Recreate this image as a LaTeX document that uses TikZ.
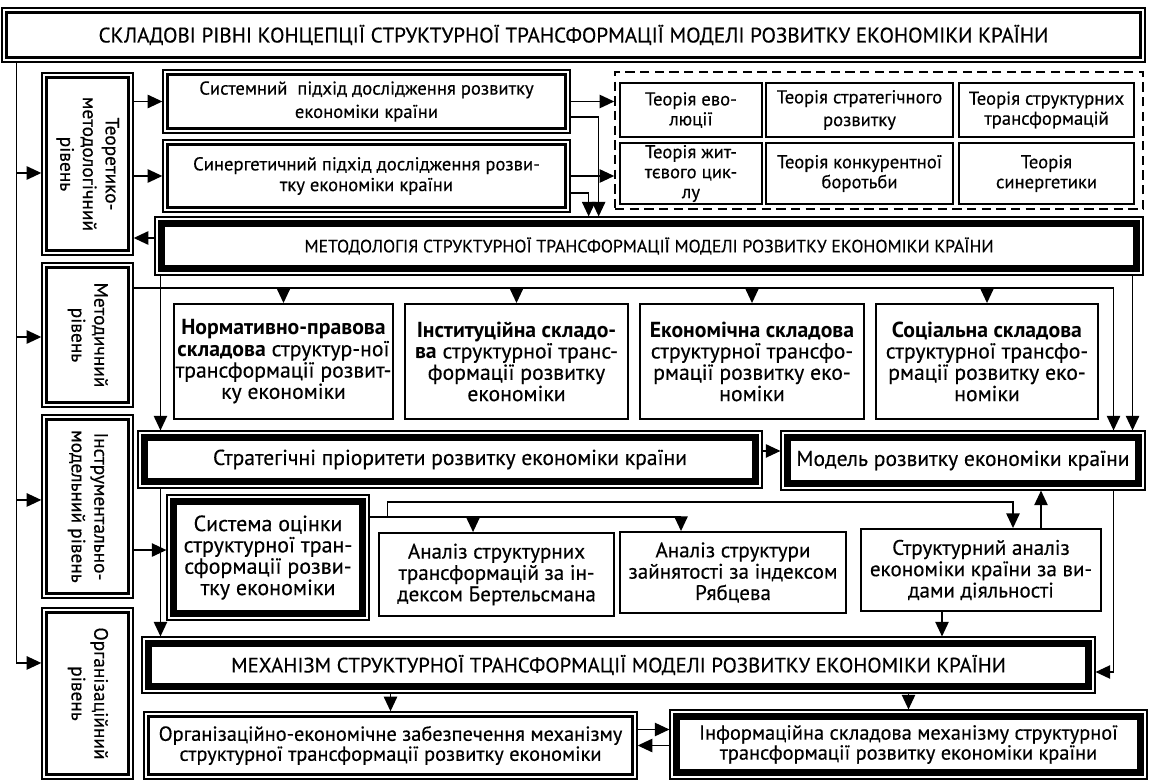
\documentclass[tikz,border=0pt]{standalone}
\usepackage{fontspec}
\setmainfont{PT Sans}[UprightFeatures={FakeBold=0.35}]
\usetikzlibrary{arrows.meta}

\tikzset{
  arr/.style={line width=1.2pt,-{Triangle[length=11pt,width=10pt]}},
  wh/.style 2 args={minimum width=#1*0.75pt,minimum height=#2*0.75pt},
  dblbox/.style={draw,line width=1pt,fill=white,align=center,inner sep=0pt,
    path picture={\draw[line width=1.6pt]
      ([xshift=3.4pt,yshift=-3.4pt]path picture bounding box.north west) rectangle
      ([xshift=-3.4pt,yshift=3.4pt]path picture bounding box.south east);}},
  heavybox/.style={draw,line width=0.8pt,fill=white,align=center,inner sep=0pt,
    path picture={\draw[line width=5.5pt]
      ([xshift=5pt,yshift=-5pt]path picture bounding box.north west) rectangle
      ([xshift=-5pt,yshift=5pt]path picture bounding box.south east);}},
  plainbox/.style={draw,line width=1.4pt,align=center,inner sep=0pt},
  theoframe/.style={draw,line width=1.1pt,dash pattern=on 7pt off 4pt},
  ftitle/.style={font=\fontsize{15.8pt}{19pt}\selectfont},
  fmeth/.style={font=\fontsize{13.3pt}{16pt}\selectfont},
  fmech/.style={font=\fontsize{15.6pt}{18pt}\selectfont},
  fbody/.style={font=\fontsize{14pt}{15.5pt}\selectfont},
  fcomp/.style={font=\fontsize{16.3pt}{16pt}\selectfont},
  fbig/.style={font=\fontsize{16.2pt}{16pt}\selectfont},
  feval/.style={font=\fontsize{16.5pt}{16pt}\selectfont},
  fanal/.style={font=\fontsize{15.8pt}{16pt}\selectfont},
  fbottom/.style={font=\fontsize{15.3pt}{15pt}\selectfont},
  ftheo/.style={font=\fontsize{14pt}{15pt}\selectfont},
  flvl/.style={font=\fontsize{14.5pt}{17pt}\selectfont}
}

\begin{document}
\begin{tikzpicture}[x=0.75pt,y=-0.75pt]
\useasboundingbox (0,0) rectangle (1152,780);

% title
\node[dblbox,wh={1143}{54},ftitle] (title) at (573.5,35) {СКЛАДОВІ РІВНІ КОНЦЕПЦІЇ СТРУКТУРНОЇ ТРАНСФОРМАЦІЇ МОДЕЛІ РОЗВИТКУ ЕКОНОМІКИ КРАЇНИ};

% levels
\node[dblbox,wh={91}{182},flvl] (lvlA) at (87.5,164) {\rotatebox{-90}{\begin{tabular}{@{}c@{}}Теоретико-\\методологічний\\рівень\end{tabular}}};
\node[dblbox,wh={91}{144},flvl] (lvlB) at (87.5,335) {\rotatebox{-90}{\begin{tabular}{@{}c@{}}Методичний\\рівень\end{tabular}}};
\node[dblbox,wh={91}{183},flvl] (lvlC) at (87.5,506.5) {\rotatebox{-90}{\begin{tabular}{@{}c@{}}Інструментально-\\модельний рівень\end{tabular}}};
\node[dblbox,wh={91}{171},flvl] (lvlD) at (87.5,693.5) {\rotatebox{-90}{\begin{tabular}{@{}c@{}}Організаційний\\рівень\end{tabular}}};

% theoretical level
\node[dblbox,wh={407}{63},fbody] (sys) at (366.5,101.5) {Системний \ підхід дослідження розвитку\\[2pt]економіки країни};
\node[dblbox,wh={407}{72},fbody] (syn) at (366.5,176) {Синергетичний підхід дослідження розви-\\тку економіки країни};
\node[theoframe,wh={528}{137}] (theo) at (879,140.5) {};
\node[plainbox,wh={142}{54},ftheo] (thA) at (691,110) {Теорія ево-\\люції};
\node[plainbox,wh={187}{54},ftheo] (thB) at (859.5,110) {Теорія стратегічного\\[2pt]розвитку};
\node[plainbox,wh={175}{54},ftheo] (thC) at (1046.5,110) {Теорія структурних\\трансформацій};
\node[plainbox,wh={142}{61},ftheo] (thD) at (691,173.5) {Теорія жит-\\тєвого цик-\\лу};
\node[plainbox,wh={187}{61},ftheo] (thE) at (859.5,173.5) {Теорія конкурентної\\боротьби};
\node[plainbox,wh={175}{61},ftheo] (thF) at (1046.5,173.5) {Теорія\\синергетики};

\node[heavybox,wh={988}{58},fmeth] (method) at (649,246) {МЕТОДОЛОГІЯ СТРУКТУРНОЇ ТРАНСФОРМАЦІЇ МОДЕЛІ РОЗВИТКУ ЕКОНОМІКИ КРАЇНИ};

% methodical level
\node[plainbox,wh={219}{115},fcomp] (compA) at (283.5,361.5) {\textbf{Нормативно-правова}\\\textbf{складова} структур-ної\\трансформації розвит-\\ку економіки};
\node[plainbox,wh={223}{115},fcomp] (compB) at (516.5,361.5) {\textbf{Інституційна складо-}\\\textbf{ва} структурної транс-\\формації розвитку\\економіки};
\node[plainbox,wh={224}{115},fcomp] (compC) at (752,361.5) {\textbf{Економічна складова}\\структурної трансфо-\\рмації розвитку еко-\\номіки};
\node[plainbox,wh={222}{115},fcomp] (compD) at (987,361.5) {\textbf{Соціальна складова}\\структурної трансфо-\\рмації розвитку еко-\\номіки};

% instrumental level
\node[heavybox,wh={624}{57},fbig] (strat) at (450,459.5) {Стратегічні пріоритети розвитку економіки країни};
\node[heavybox,wh={364}{59},fbig] (model) at (963,460.5) {Модель розвитку економіки країни};
\node[heavybox,wh={202}{125},feval] (sysEval) at (268,557.5) {Система оцінки\\структурної тран-\\сформації розви-\\тку економіки};
\node[plainbox,wh={235}{83},fanal] (anA) at (496.5,574.5) {Аналіз структурних\\трансформацій за ін-\\дексом Бертельсмана};
\node[plainbox,wh={226}{81},fanal] (anB) at (733,572.5) {Аналіз структури\\зайнятості за індексом\\Рябцева};
\node[plainbox,wh={240}{82},fanal] (anC) at (981,570) {Структурний аналіз\\економіки країни за ви-\\дами діяльності};

% organisational level
\node[heavybox,wh={953}{56},fmech] (mech) at (618.5,665) {МЕХАНІЗМ СТРУКТУРНОЇ ТРАНСФОРМАЦІЇ МОДЕЛІ РОЗВИТКУ ЕКОНОМІКИ КРАЇНИ};
\node[dblbox,wh={493}{67},fbottom] (orgEc) at (390.5,745.5) {Організаційно-економічне забезпечення механізму\\структурної трансформації розвитку економіки};
\node[heavybox,wh={477}{69},fbottom] (info) at (908.5,744.5) {Інформаційна складова механізму структурної\\трансформації розвитку економіки країни};

% spine and level arrows
\coordinate (spine) at ([xshift=11.25pt]title.south west);
\coordinate (pA) at ([yshift=-6.75pt]lvlA.west);
\coordinate (pB) at ([yshift=-1.5pt]lvlB.west);
\coordinate (pC) at ([yshift=4.9pt]lvlC.west);
\coordinate (pD) at ([yshift=22.9pt]lvlD.west);
\draw[line width=1.2pt] (spine) -- (spine |- pD);
\draw[arr] (spine |- pA) -- (pA);
\draw[arr] (spine |- pB) -- (pB);
\draw[arr] (spine |- pC) -- (pC);
\draw[arr] (spine |- pD) -- (pD);

% theoretical connectors
\draw[arr] (lvlA.east |- sys.west) -- (sys.west);
\draw[arr] (lvlA.east |- syn.west) -- (syn.west);
\draw[arr] (sys.east) -- (sys.east -| theo.west);
\draw[arr] (syn.east) -- (syn.east -| theo.west);
\draw[arr] ([yshift=-11.6pt]sys.east) -- ++(28,0) coordinate (jA) -- (jA |- method.north);
\draw[arr] ([yshift=-12.75pt]syn.east) -- ++(18,0) coordinate (jB) -- (jB |- method.north);
\draw[arr] ([yshift=6pt]method.west) coordinate (m1) -- (m1 -| lvlA.east);

% methodical connectors
\coordinate (mline) at ([yshift=35.25pt]lvlB.east);
\draw[arr] (mline) -| ([xshift=-24pt]model.north east);
\draw[arr] (compA.north |- mline) -- (compA.north);
\draw[arr] (compB.north |- mline) -- (compB.north);
\draw[arr] (compC.north |- mline) -- (compC.north);
\draw[arr] (compD.north |- mline) -- (compD.north);
\draw[arr] ([xshift=-8.25pt]method.south east) coordinate (jC) -- (jC |- model.north);
\draw[arr] ([xshift=4.5pt]method.south west) coordinate (jD) -- (jD |- strat.north);

% instrumental connectors
\draw[arr] (jD |- strat.south) -- (jD |- mech.north);
\draw[arr] ([yshift=6.4pt]strat.east) coordinate (jE) -- (jE -| model.west);
\coordinate (jF) at ([yshift=5.6pt]sysEval.west);
\draw[arr] (jF -| lvlC.east) -- (jF);
\coordinate (jG) at ([yshift=30.4pt]sysEval.east);
\coordinate (dA) at ([xshift=-17.6pt]anA.north);
\coordinate (dB) at ([xshift=-39pt]anB.north);
\coordinate (dC) at ([xshift=24pt]anC.north);
\draw[arr] (jG) -| (dB);
\draw[arr] (jG -| dA) -- (dA);
\draw[arr] ([xshift=13.5pt]jG) -- ++(0,-15) -| (dC);
\draw[arr] ([xshift=45pt]anC.north) coordinate (jH) -- (jH |- model.south);
\draw[arr] ([xshift=-24pt]model.south east) |- ([yshift=-5.25pt]mech.east);
\draw[arr] ([xshift=-29.25pt]anC.south) coordinate (jI) -- (jI |- mech.north);

% organisational connectors
\draw[arr] (orgEc.north |- mech.south) -- (orgEc.north);
\draw[arr] (info.north |- mech.south) -- (info.north);
\draw[arr] ([yshift=12pt]orgEc.east) coordinate (jJ) -- (jJ -| info.west);
\draw[arr] (info.west |- orgEc.east) -- (orgEc.east);
\end{tikzpicture}
\end{document}
